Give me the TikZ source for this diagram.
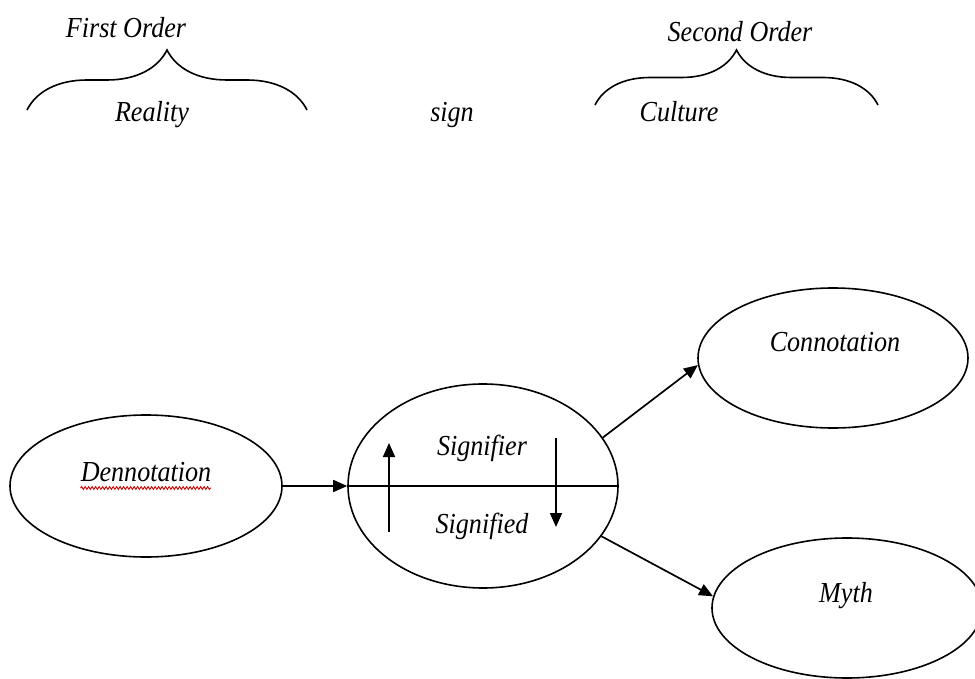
\documentclass[tikz,border=0pt]{standalone}
\usepackage{fontspec}
\setmainfont{Liberation Serif}[FakeStretch=0.9]
\usepackage{tikz}
\usetikzlibrary{positioning, shapes.geometric, arrows.meta, decorations.pathreplacing, decorations.pathmorphing}

\begin{document}
\begin{tikzpicture}[x=1pt, y=-1pt, oval/.style={ellipse, draw=black, line width=1.6pt, inner sep=0pt, minimum width=270pt, minimum height=140pt}, word/.style={font=\fontsize{29}{31}\selectfont\itshape, inner sep=0pt, anchor=base}, curly/.style={decorate, decoration={brace, amplitude=#1}, line width=1.6pt}, link/.style={-{Triangle[length=14pt,width=12pt]}, line width=1.7pt}]

    \useasboundingbox (0,0) rectangle (975,679);

    % Orders ---------------
    \node[word] (first)     at (126,38)     {First Order};
    \node[word] (reality)   at (152,122)    {Reality};
    \node[word] (signword)  at (452,122)    {sign};
    \node[word] (second)    at (740,42)     {Second Order};
    \node[word] (culture)   at (679,122)    {Culture};
    \draw[curly=60] (27,110) -- (307,110);
    \draw[curly=55] (595,105) -- (878,105);

    % Nodes
    \node[oval, minimum width=272pt, minimum height=142pt]  (denot) at (146,486) {};
    \node[oval, minimum height=204pt]                       (sign)  at (483,486) {};
    \node[oval]                                             (conn)  at (833,358) {};
    \node[oval]                                             (myth)  at (847,608) {};

    \node[word] (denottext)     at (146,481)    {Dennotation};
    \node[word] (signifier)     at (482,455)    {Signifier};
    \node[word] (signified)     at (482,533)    {Signified};
    \node[word] (conntext)      at (835,351)    {Connotation};
    \node[word] (mythtext)      at (846,602)    {Myth};
    \draw[red!80!black, line width=0.9pt, decorate, decoration={snake, amplitude=1.4pt, segment length=3.5pt}] ([yshift=-7pt]denottext.base west) -- ([yshift=-7pt]denottext.base east);

    % Lines ---------------
    \draw[line width=1.7pt] (sign.west) -- (sign.east);
    \coordinate (upfoot)    at (389,532);
    \coordinate (uptip)     at (389,443);
    \coordinate (downfoot)  at (556,438);
    \coordinate (downtip)   at (556,527);
    \draw[link] (upfoot) -- (uptip);
    \draw[link] (downfoot) -- (downtip);

    \draw[link] (denot.east) -- (sign.west);
    \draw[link] (sign.22) -- (conn.183);
    \draw[link] (sign.-23) -- (myth.175);

\end{tikzpicture}
\end{document}
